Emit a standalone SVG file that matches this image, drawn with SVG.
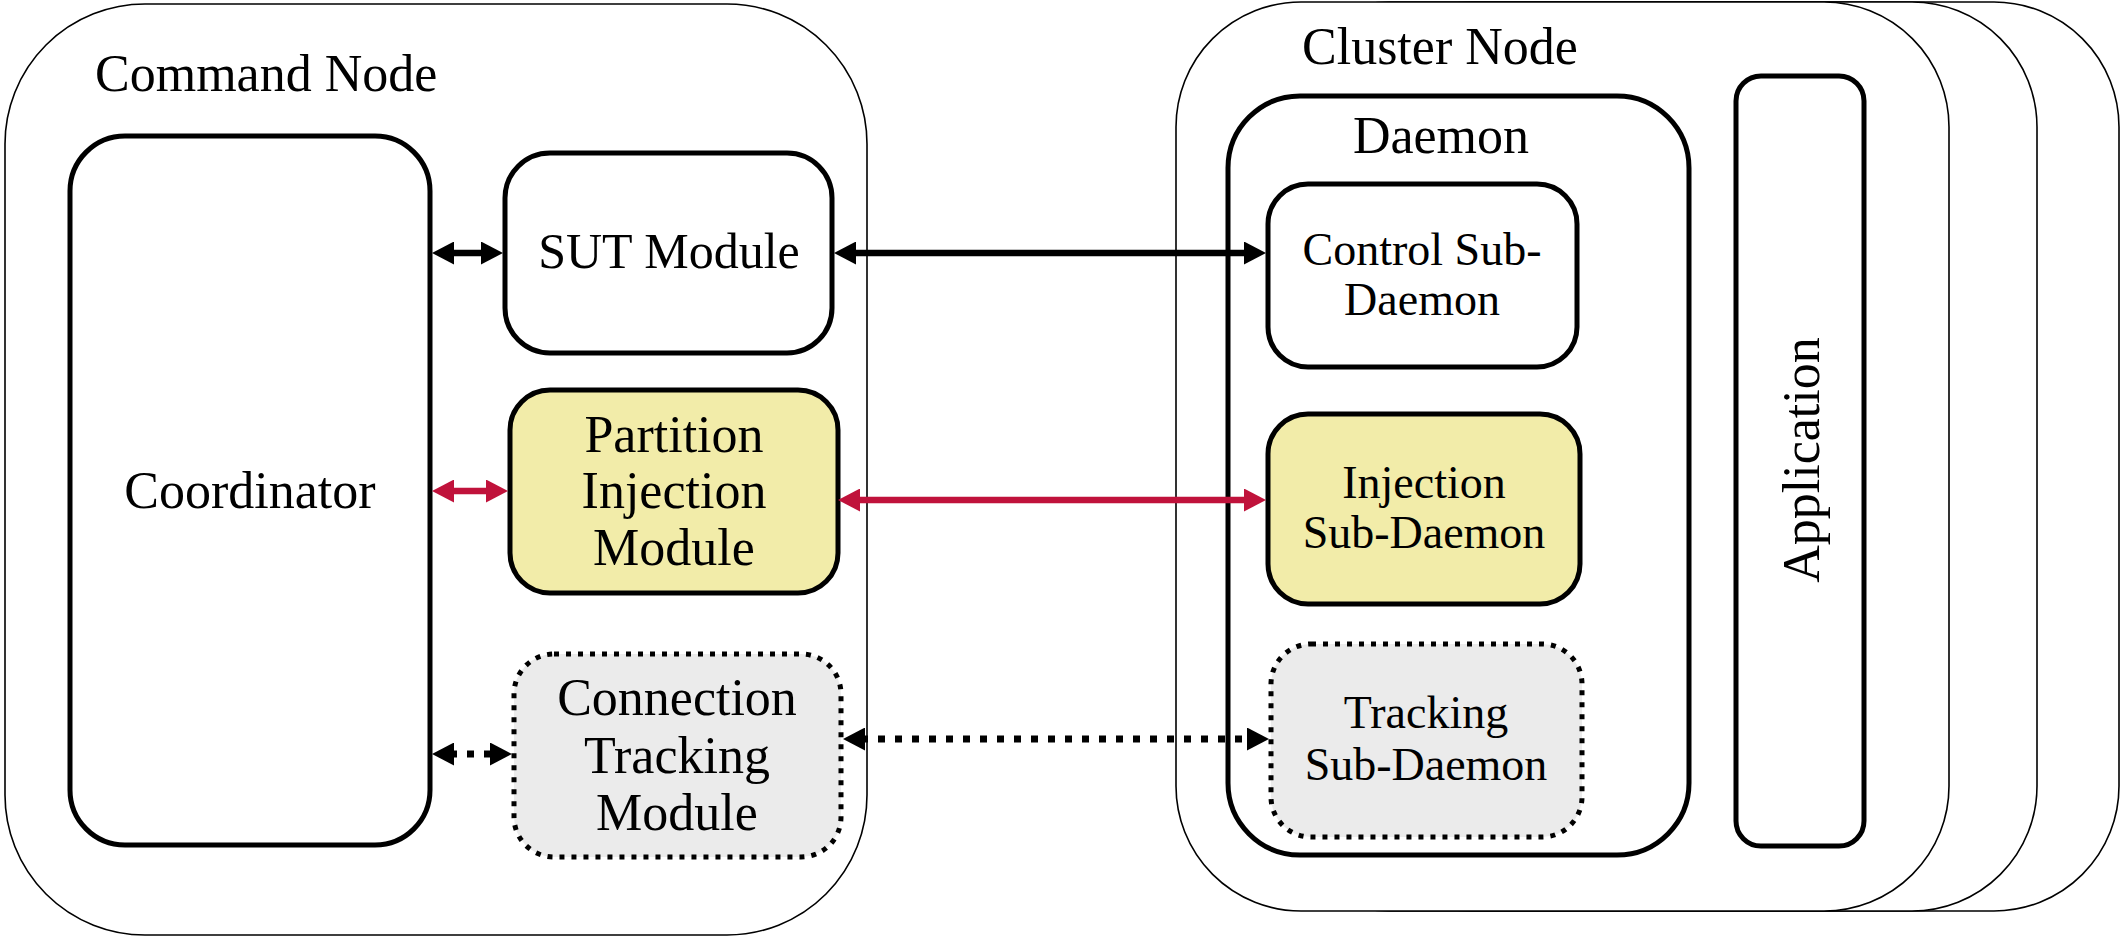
<svg xmlns="http://www.w3.org/2000/svg" width="2121" height="937" viewBox="0 0 2121 937">
<defs>
<style>
.outer{fill:#fff;stroke:#000;stroke-width:1.6}
.box{fill:#fff;stroke:#000;stroke-width:5}
.yel{fill:#F2ECA9;stroke:#000;stroke-width:5}
.dot{fill:#EBEBEB;stroke:#000;stroke-width:5;stroke-dasharray:5 7}
.t{font-family:"Liberation Serif","Times New Roman",serif;fill:#000;text-anchor:middle}
.big{font-size:52px}
.mid{font-size:46px}
.blk{stroke:#000;stroke-width:6.5;fill:none}
.red{stroke:#C0123B;stroke-width:6.5;fill:none}
.dsh{stroke:#000;stroke-width:7;fill:none;stroke-dasharray:7 10}
</style>
<marker id="ab" viewBox="0 0 22 23" markerWidth="22" markerHeight="23" refX="4" refY="11.5" orient="auto-start-reverse" markerUnits="userSpaceOnUse"><path d="M0,0 L22,11.5 L0,23 Z" fill="#000"/></marker>
<marker id="ar" viewBox="0 0 22 23" markerWidth="22" markerHeight="23" refX="4" refY="11.5" orient="auto-start-reverse" markerUnits="userSpaceOnUse"><path d="M0,0 L22,11.5 L0,23 Z" fill="#C0123B"/></marker>
</defs>
<rect width="2121" height="937" fill="#fff"/>

<g id="command-node">
<rect class="outer" x="5" y="4" width="862" height="931" rx="140" ry="140"/>
<text class="t big" x="95" y="91" style="text-anchor:start">Command Node</text>
</g>

<g id="cluster-node-stack">
<rect class="outer" x="1346" y="2" width="773" height="909" rx="125" ry="125"/>
<rect class="outer" x="1264" y="2" width="773" height="909" rx="125" ry="125"/>
</g>
<g id="cluster-node">
<rect class="outer" x="1176" y="2" width="773" height="909" rx="125" ry="125"/>
<text class="t big" x="1302" y="64" style="text-anchor:start">Cluster Node</text>
</g>

<g id="coordinator">
<rect class="box" x="70" y="136" width="360" height="709" rx="55" ry="55"/>
<text class="t big" x="250" y="508">Coordinator</text>
</g>

<g id="sut-module">
<rect class="box" x="505" y="153" width="327" height="200" rx="45" ry="45"/>
<text class="t" style="font-size:50px" x="669" y="268">SUT Module</text>
</g>

<g id="partition-injection-module">
<rect class="yel" x="510" y="390" width="328" height="203" rx="40" ry="40"/>
<text class="t big" x="674" y="452">Partition</text>
<text class="t big" x="674" y="508">Injection</text>
<text class="t big" x="674" y="565">Module</text>
</g>

<g id="connection-tracking-module">
<rect class="dot" x="514" y="654" width="327" height="203" rx="40" ry="40"/>
<text class="t big" x="677" y="715">Connection</text>
<text class="t big" x="677" y="773">Tracking</text>
<text class="t big" x="677" y="830">Module</text>
</g>

<g id="daemon">
<rect class="box" x="1228" y="96" width="461" height="759" rx="72" ry="72"/>
<text class="t big" x="1441" y="153">Daemon</text>
</g>

<g id="control-sub-daemon">
<rect class="box" x="1268" y="184" width="309" height="183" rx="40" ry="40"/>
<text class="t mid" x="1422" y="265">Control Sub-</text>
<text class="t mid" x="1422" y="315">Daemon</text>
</g>

<g id="injection-sub-daemon">
<rect class="yel" x="1268" y="414" width="312" height="190" rx="40" ry="40"/>
<text class="t mid" x="1424" y="498">Injection</text>
<text class="t mid" x="1424" y="548">Sub-Daemon</text>
</g>

<g id="tracking-sub-daemon">
<rect class="dot" x="1271" y="644" width="311" height="193" rx="40" ry="40"/>
<text class="t mid" x="1426" y="728">Tracking</text>
<text class="t mid" x="1426" y="780">Sub-Daemon</text>
</g>

<g id="application">
<rect class="box" x="1736" y="76" width="128" height="770" rx="25" ry="25"/>
<text class="t big" transform="translate(1819,460) rotate(-90)" x="0" y="0">Application</text>
</g>

<g id="connectors">
<line class="blk" x1="450" y1="253" x2="485" y2="253" marker-start="url(#ab)" marker-end="url(#ab)"/>
<line class="blk" x1="852" y1="253" x2="1248" y2="253" marker-start="url(#ab)" marker-end="url(#ab)"/>
<line class="red" x1="450" y1="491" x2="490" y2="491" marker-start="url(#ar)" marker-end="url(#ar)"/>
<line class="red" x1="856" y1="500" x2="1248" y2="500" marker-start="url(#ar)" marker-end="url(#ar)"/>
<line class="dsh" x1="450" y1="754" x2="494" y2="754" marker-start="url(#ab)" marker-end="url(#ab)"/>
<line class="dsh" x1="861" y1="739" x2="1251" y2="739" marker-start="url(#ab)" marker-end="url(#ab)"/>
</g>
</svg>
